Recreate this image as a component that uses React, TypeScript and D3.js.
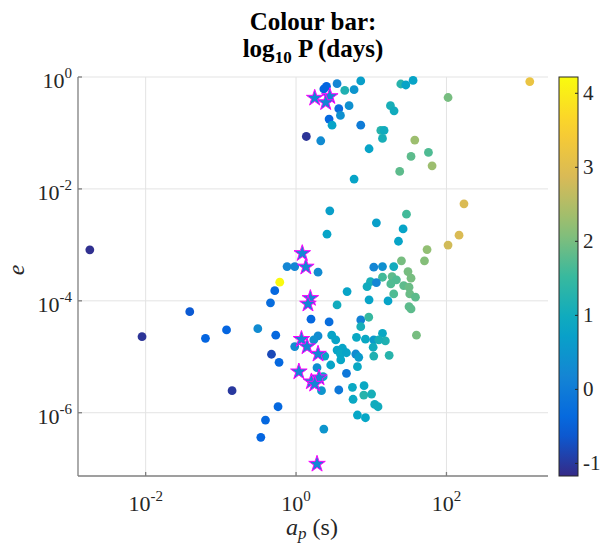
import React from 'react';
import * as d3 from 'd3';

// semi-major axis a_p (s), eccentricity e, log10 P (days)
const apValues = [1.37, 1.81e-3, 2.34, 2.54, 3.51, 7.25, 4.44, 5.91, 24.7, 28.8, 36.0, 1282, 105, 3.70, 5.07, 3.89, 2.75, 3.01, 7.25, 2.13,
  18.0, 20.1, 13.4, 14.8, 14.1, 9.35, 5.91, 37.9, 57.6, 33.8, 64.4, 23.9, 171, 29.4, 2.81, 11.7, 26.5, 147, 2.58, 23.0,
  105, 55.2, 51.0, 25.2, 0.759, 0.96, 1.96, 10.8, 14.1, 19.9, 30.8, 0.607, 0.521, 0.457, 33.8, 14.1, 18.9, 21.6, 18.2, 9.75,
  11.7, 8.79, 27.0, 31.8, 19.9, 32.5, 38.7, 4.77, 9.35, 16.7, 31.8, 33.8, 3.51, 1.58, 2.75, 0.31, 0.537, 7.25, 9.26, 7.25,
  39.9, 14.1, 15.4, 6.36, 8.37, 10.8, 12.6, 10.6, 10.8, 17.3, 2.98, 3.37, 1.96, 1.72, 0.96, 2.41, 3.51, 4.14, 3.89, 4.68,
  3.93, 6.22, 6.82, 2.89, 6.55, 0.471, 0.594, 1.90, 2.29, 4.68, 2.18, 3.70, 5.62, 8.02, 7.95, 10.1, 5.73, 11.1, 12.3, 0.576,
  0.392, 0.34, 6.55, 8.37, 2.34, 0.0386, 8.95e-3, 0.0624, 0.119, 0.141];
const eValues = [0.0865, 8.14e-4, 0.61, 0.68, 0.76, 0.85, 0.576, 0.593, 0.75, 0.72, 0.87, 0.83, 0.43, 0.271, 0.307, 0.206, 0.177, 0.138, 0.138, 0.0725,
  0.307, 0.249, 0.111, 0.111, 0.0798, 0.0522, 0.0150, 0.0746, 0.0448, 0.0380, 0.0259, 0.0205, 5.41e-3, 3.54e-3, 4.06e-3, 2.48e-3, 1.93e-3, 1.49e-3, 1.55e-3, 1.16e-3,
  9.9e-4, 8.24e-4, 5.18e-4, 5.18e-4, 4.09e-4, 4.09e-4, 3.25e-4, 3.99e-4, 4.09e-4, 4.09e-4, 3.33e-4, 2.15e-4, 1.52e-4, 9.2e-5, 2.54e-4, 2.64e-4, 2.71e-4, 2.37e-4, 2.0e-4, 2.2e-4,
  2.12e-4, 1.79e-4, 1.87e-4, 1.75e-4, 1.33e-4, 1.33e-4, 1.16e-4, 1.46e-4, 1.04e-4, 9.96e-5, 7.87e-5, 7.16e-5, 8.45e-5, 4.69e-5, 4.19e-5, 3.18e-5, 2.43e-5, 4.55e-5, 5.09e-5, 3.45e-5,
  2.43e-5, 2.63e-5, 1.92e-5, 2.23e-5, 2.06e-5, 2.0e-5, 2.0e-5, 1.48e-5, 1.03e-5, 1.06e-5, 2.43e-5, 2.0e-5, 2.36e-5, 2.0e-5, 1.52e-5, 1.03e-5, 1.32e-5, 1.42e-5, 1.12e-5, 1.18e-5,
  8.77e-6, 1.12e-5, 9.8e-6, 7.13e-6, 6.65e-6, 1.11e-5, 7.97e-6, 6.38e-6, 4.41e-6, 5.07e-6, 2.48e-6, 2.55e-6, 2.85e-6, 3.04e-6, 2.07e-6, 2.16e-6, 1.74e-6, 1.41e-6, 1.28e-6, 1.28e-6,
  7.4e-7, 3.63e-7, 9.1e-7, 8.14e-7, 5.1e-7, 6.41e-5, 2.29e-5, 2.14e-5, 3.02e-5, 2.48e-6];
const logPValues = [-1.05, -1.1, -0.45, -0.45, 0.2, 0.7, 1.2, 0.5, 1.3, 0.8, 0.8, 3.2, 2.0, -0.3, 0.4, 0.4, -0.4, 0.8, 0.0, 0.3,
  1.1, 1.0, 1.3, 1.0, 1.1, 0.8, 0.8, 2.3, 1.7, 1.8, 2.3, 1.8, 2.9, 1.6, 0.7, 0.7, 0.8, 2.9, 0.8, 0.8,
  2.8, 2.2, 2.1, 2.0, 0.2, 0.2, 0.3, 0.2, 0.4, 1.0, 2.0, 4.2, -0.4, -0.3, 2.0, 1.6, 1.8, 1.7, 1.7, 1.1,
  0.2, 1.0, 1.8, 1.9, 1.7, 1.9, 1.8, 0.8, 0.8, 0.8, 1.8, 1.8, 1.0, -0.4, -0.3, 0.3, -0.4, 0.1, 1.5, 1.1,
  2.0, 0.9, 1.2, 0.9, 0.9, 0.6, 1.1, 1.0, 1.2, 1.3, 0.8, 0.8, 0.3, 0.4, 0.3, 0.8, 0.8, 0.8, 0.9, 0.8,
  0.85, 0.3, 0.6, 0.8, 0.9, -0.8, -0.4, 0.3, 0.8, -0.1, 0.5, -0.1, 0.9, 0.9, 1.3, 1.1, 0.9, 1.0, 1.0, -0.4,
  -0.4, -0.45, 0.85, 0.85, 0.5, -0.6, -1.05, -0.45, -0.45, -1.0];

// highlighted systems (pentagrams)
const starAp = [1.77, 2.81, 2.48, 1.21, 1.35, 1.55, 1.44, 1.18, 1.40, 1.96, 1.09, 1.60, 2.02, 1.77, 1.90];
const starE = [0.421, 0.45, 0.351, 7.05e-4, 4.04e-4, 1.11e-4, 8.8e-5, 2.06e-5, 1.52e-5, 1.12e-5, 5.41e-6, 3.59e-6, 4.23e-6, 3.26e-6, 1.21e-7];
const starLogP = [0.2, 0.2, 0.2, 0.2, 0.2, 0.2, 0.2, 0.2, 0.2, 0.2, 0.2, 0.2, 0.2, 0.2, 0.2];

const xDomain = [1.26e-3, 2240];
const yDomain = [7.4e-8, 1];
const cDomain = [-1.17, 4.22];
const xTickExps = [-2, 0, 2];
const yTickExps = [0, -2, -4, -6];
const cbTicks = [-1, 0, 1, 2, 3, 4];
const parulaStops = ['#352a87', '#0363e1', '#1485d4', '#06a7c6', '#38b99e', '#92bf73', '#d9ba56', '#fcce2e', '#f9fb0e'];

const FONT = '"Liberation Serif", "Times New Roman", serif';

export default function App() {
  const W = 602, H = 545;
  const left = 78, right = 548, top = 77, bottom = 476;
  const cbLeft = 559, cbRight = 578;

  const x = d3.scaleLog().domain(xDomain).range([left, right]);
  const y = d3.scaleLog().domain(yDomain).range([bottom, top]);
  const parula = d3.scaleLinear<string>()
    .domain(parulaStops.map((_, i) => i / (parulaStops.length - 1)))
    .range(parulaStops)
    .interpolate(d3.interpolateRgb);
  const cNorm = d3.scaleLinear().domain(cDomain).range([0, 1]).clamp(true);
  const colour = (v: number) => parula(cNorm(v));
  const cy = d3.scaleLinear().domain(cDomain).range([bottom, top]);

  const points = apValues.map((a, i) => ({ a, e: eValues[i], p: logPValues[i] }));
  const stars = starAp.map((a, i) => ({ a, e: starE[i], p: starLogP[i] }));
  const starPath = d3.symbol().type(d3.symbolStar).size(85)() as string;

  const gradStops = d3.range(0, 1.0001, 0.05);
  const axisCol = '#7f7f7f';
  const textCol = '#262626';
  const gridCol = '#e3e3e3';

  return (
    <div style={{ position: 'absolute', left: 0, top: 0 }}>
      <svg width={W} height={H} style={{ display: 'block', background: '#fff' }} fontFamily={FONT}>
        <defs>
          <linearGradient id="parulaGrad" x1="0" y1="1" x2="0" y2="0">
            {gradStops.map((t) => (
              <stop key={t} offset={t} stopColor={parula(t)} />
            ))}
          </linearGradient>
        </defs>

        {/* grid */}
        {xTickExps.map((n) => (
          <line key={'gx' + n} x1={x(Math.pow(10, n))} x2={x(Math.pow(10, n))} y1={top} y2={bottom} stroke={gridCol} strokeWidth={1} />
        ))}
        {yTickExps.map((n) => (
          <line key={'gy' + n} x1={left} x2={right} y1={y(Math.pow(10, n))} y2={y(Math.pow(10, n))} stroke={gridCol} strokeWidth={1} />
        ))}

        {/* points */}
        {points.map((d, i) => (
          <circle key={'p' + i} cx={x(d.a)} cy={y(d.e)} r={4.4} fill={colour(d.p)} />
        ))}
        {stars.map((d, i) => (
          <path key={'s' + i} d={starPath} transform={`translate(${x(d.a)},${y(d.e)})`} fill={colour(d.p)} stroke="#ff00ff" strokeWidth={1} />
        ))}

        {/* axes */}
        <line x1={left} x2={left} y1={top} y2={bottom} stroke={axisCol} strokeWidth={1.3} />
        <line x1={left} x2={right} y1={bottom} y2={bottom} stroke={axisCol} strokeWidth={1.3} />
        {xTickExps.map((n) => (
          <g key={'xt' + n}>
            <line x1={x(Math.pow(10, n))} x2={x(Math.pow(10, n))} y1={bottom} y2={bottom - 4} stroke={axisCol} strokeWidth={1.3} />
            <text x={x(Math.pow(10, n))} y={511} textAnchor="middle" fontSize={22} fill={textCol}>
              10<tspan fontSize={15} dy={-10}>{n}</tspan>
            </text>
          </g>
        ))}
        {yTickExps.map((n) => (
          <g key={'yt' + n}>
            <line x1={left} x2={left + 4} y1={y(Math.pow(10, n))} y2={y(Math.pow(10, n))} stroke={axisCol} strokeWidth={1.3} />
            <text x={72} y={y(Math.pow(10, n)) + 11} textAnchor="end" fontSize={22} fill={textCol}>
              10<tspan fontSize={15} dy={-10}>{n}</tspan>
            </text>
          </g>
        ))}

        {/* axis labels */}
        <text x={312} y={535} textAnchor="middle" fontSize={24} fill={textCol}>
          <tspan fontStyle="italic">a</tspan>
          <tspan fontStyle="italic" fontSize={17} dy={4}>p</tspan>
          <tspan dy={-4}>{' (s)'}</tspan>
        </text>
        <text transform="translate(24,270) rotate(-90)" textAnchor="middle" fontSize={24} fontStyle="italic" fill={textCol}>e</text>

        {/* title */}
        <text x={313} y={30} textAnchor="middle" fontSize={25} fontWeight="bold" fill="#000">Colour bar:</text>
        <text x={313} y={57} textAnchor="middle" fontSize={25} fontWeight="bold" fill="#000">
          log<tspan fontSize={17} dy={6}>10</tspan><tspan dy={-6}>{' P (days)'}</tspan>
        </text>

        {/* colour bar */}
        <rect x={cbLeft} y={top} width={cbRight - cbLeft} height={bottom - top} fill="url(#parulaGrad)" stroke={textCol} strokeWidth={1} />
        {cbTicks.map((t) => (
          <g key={'cb' + t}>
            <line x1={cbRight - 3} x2={cbRight} y1={cy(t)} y2={cy(t)} stroke={textCol} strokeWidth={1} />
            <text x={583} y={cy(t) + 7} fontSize={21} fill={textCol}>{t < 0 ? '-' + Math.abs(t) : String(t)}</text>
          </g>
        ))}
      </svg>
    </div>
  );
}
